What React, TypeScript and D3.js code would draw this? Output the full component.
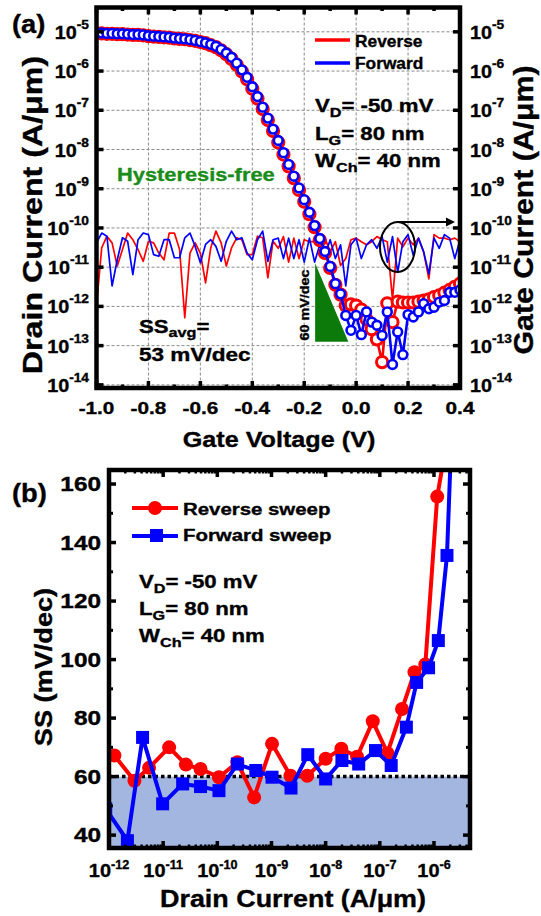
import React from 'react';
import * as d3 from 'd3';

// ---------- panel (a): transfer curves ----------
const gateV = [
  -1.0, -0.98, -0.96, -0.94, -0.92, -0.9, -0.88, -0.86, -0.84, -0.82,
  -0.8, -0.78, -0.76, -0.74, -0.72, -0.7, -0.68, -0.66, -0.64, -0.62,
  -0.6, -0.58, -0.56, -0.54, -0.52, -0.5, -0.48, -0.46, -0.44, -0.42,
  -0.4, -0.38, -0.36, -0.34, -0.32, -0.3, -0.28, -0.26, -0.24, -0.22,
  -0.2, -0.18, -0.16, -0.14, -0.12, -0.1, -0.08, -0.06, -0.04, -0.02,
  0.0, 0.02, 0.04, 0.06, 0.08, 0.1, 0.12, 0.14, 0.16, 0.18,
  0.2, 0.22, 0.24, 0.26, 0.28, 0.3, 0.32, 0.34, 0.36, 0.38,
  0.4,
];

// log10 of drain current (A/um)
const idReverseExp = [
  -5.04, -5.04, -5.05, -5.05, -5.06, -5.06, -5.07, -5.08, -5.08, -5.09,
  -5.11, -5.12, -5.13, -5.14, -5.15, -5.17, -5.18, -5.19, -5.21, -5.23,
  -5.26, -5.29, -5.34, -5.39, -5.47, -5.57, -5.69, -5.84, -6.01, -6.21,
  -6.45, -6.7, -6.97, -7.25, -7.53, -7.82, -8.13, -8.43, -8.73, -9.03,
  -9.33, -9.65, -9.98, -10.31, -10.64, -11.02, -11.45, -11.7, -11.98, -11.95,
  -11.98, -12.08, -12.33, -12.58, -12.84, -13.42, -11.92, -12.4, -11.88, -11.9,
  -11.9, -11.9, -11.88, -11.85, -11.82, -11.76, -11.72, -11.65, -11.58, -11.5,
  -11.42,
];
const idForwardExp = [
  -5.03, -5.03, -5.04, -5.04, -5.05, -5.05, -5.06, -5.07, -5.07, -5.08,
  -5.1, -5.11, -5.12, -5.13, -5.14, -5.16, -5.17, -5.18, -5.2, -5.22,
  -5.25, -5.28, -5.32, -5.37, -5.45, -5.54, -5.65, -5.8, -5.97, -6.16,
  -6.4, -6.65, -6.92, -7.2, -7.48, -7.77, -8.08, -8.38, -8.68, -8.98,
  -9.28, -9.6, -9.94, -10.27, -10.6, -10.98, -11.42, -11.68, -12.23, -12.61,
  -12.23, -12.72, -12.14, -12.4, -12.48, -12.74, -12.14, -13.48, -12.65, -13.23,
  -12.21, -12.27, -12.14, -11.93, -12.06, -12.02, -11.89, -11.85, -11.64, -11.64,
  -11.58,
];

// log10 of gate current (A/um)
const igReverseExp = [
  -11.99, -10.51, -10.21, -10.38, -10.97, -10.55, -10.13, -10.3, -10.55, -10.85,
  -10.34, -10.38, -10.64, -10.81, -10.13, -10.13, -10.55, -12.29, -10.64, -10.38,
  -10.64, -11.4, -10.51, -10.08, -10.38, -10.97, -10.51, -10.25, -10.3, -10.68,
  -10.68, -10.21, -10.25, -11.27, -10.34, -10.52, -10.22, -10.87, -10.26, -10.78,
  -10.3, -10.35, -10.35, -10.48, -10.26, -10.61, -10.35, -10.96, -10.78, -10.3,
  -10.26, -10.35, -10.43, -10.35, -10.22, -10.3, -10.35, -11.83, -10.26, -10.48,
  -10.26, -10.43, -10.26, -10.61, -11.3, -10.17, -10.26, -10.26, -10.3, -10.26,
  -10.35,
];
const igForwardExp = [
  -10.38, -10.13, -10.21, -11.48, -10.81, -10.25, -10.34, -11.19, -10.3, -10.13,
  -10.17, -10.68, -10.72, -10.3, -10.3, -10.76, -10.76, -10.25, -10.13, -10.47,
  -10.89, -10.42, -10.3, -10.47, -10.85, -10.34, -10.08, -10.3, -10.25, -10.64,
  -10.81, -10.3, -10.08, -10.85, -10.3, -10.26, -10.78, -10.26, -10.78, -10.3,
  -10.87, -10.26, -10.87, -10.43, -10.7, -10.3, -10.78, -10.43, -11.48, -10.43,
  -10.26, -10.78, -10.43, -10.3, -10.52, -10.22, -10.87, -10.22, -11.13, -10.35,
  -10.17, -10.7, -10.26, -10.61, -11.17, -10.26, -10.52, -10.17, -10.26, -10.78,
  -10.3,
];

const yTickExpA = [-5, -6, -7, -8, -9, -10, -11, -12, -13, -14];
const xTicksA = [-1.0, -0.8, -0.6, -0.4, -0.2, 0.0, 0.2, 0.4];

// ---------- panel (b): SS vs drain current ----------
const ssRevIdExp = [-11.9, -11.53, -11.26, -10.89, -10.58, -10.31, -9.97, -9.63, -9.32, -8.99, -8.65, -8.34, -8.0, -7.71, -7.42, -7.13, -6.86, -6.59, -6.36, -6.16, -5.94, -5.53];
const ssRevVal = [67.2, 58.6, 63.0, 70.0, 64.1, 62.6, 59.8, 64.9, 52.9, 71.2, 60.3, 60.3, 66.1, 69.5, 66.8, 78.9, 68.0, 83.1, 95.7, 98.3, 155.7, 200];
const ssFwdIdExp = [-12.06, -11.66, -11.38, -11.01, -10.64, -10.31, -9.97, -9.63, -9.29, -8.99, -8.64, -8.33, -8.0, -7.7, -7.39, -7.08, -6.79, -6.51, -6.32, -6.1, -5.92, -5.76, -5.63];
const ssFwdVal = [49, 38.1, 73.4, 50.7, 57.5, 56.6, 55.2, 64.3, 62.1, 59.8, 56.1, 67.5, 59.2, 65.5, 64.3, 68.9, 63.8, 76.9, 92.2, 97.2, 106.5, 135.6, 200];

const xTickExpB = [-12, -11, -10, -9, -8, -7, -6];
const yTicksB = [40, 60, 80, 100, 120, 140, 160];
const yMinorB = [50, 70, 90, 110, 130, 150];
const idealSS = 60;

const FONT = "'Liberation Sans', Arial, Helvetica, sans-serif";
const RED = '#ff0000';
const BLUE = '#0000ff';
const GRID = '#8a8a8a';

// bold text, widened a little to match the heavy font of the original
function Label({ x, y, size, anchor = 'start', sx = 1.15, rot = 0, fill = '#000', children }: any) {
  return (
    <text
      transform={`translate(${x},${y}) rotate(${rot}) scale(${sx},1)`}
      fontSize={size}
      fontWeight="bold"
      fontFamily={FONT}
      textAnchor={anchor}
      fill={fill}
      stroke={fill}
      strokeWidth={0.35}
    >
      {children}
    </text>
  );
}

export default function App() {
  // panel (a) scales
  const A = { left: 96.5, right: 460, top: 7.5, bottom: 388 };
  const xA = d3.scaleLinear().domain([-1, 0.4]).range([A.left, A.right]);
  const yA = d3.scaleLog().domain([10 ** -14.08, 10 ** -4.38]).range([A.bottom, A.top]);
  const lineA = d3.line<number>().x((_, i) => xA(gateV[i])).y(d => yA(10 ** d));

  // panel (b) scales
  const B = { left: 109, right: 470, top: 470, bottom: 848 };
  const xB = d3.scaleLog().domain([1e-12, 10 ** -5.335]).range([B.left, B.right]);
  const yB = d3.scaleLinear().domain([35.6, 164.8]).range([B.bottom, B.top]);
  const revPts = ssRevIdExp.map((e, i) => [xB(10 ** e), yB(ssRevVal[i])] as [number, number]);
  const fwdPts = ssFwdIdExp.map((e, i) => [xB(10 ** e), yB(ssFwdVal[i])] as [number, number]);
  const lineB = d3.line();

  const xMinorA = xA.ticks(14);
  const xMinorB = xB.ticks().filter(t => t >= 1e-12 && t <= 10 ** -5.335);

  const tri = [
    [xA(-0.158), yA(10 ** -10.9)],
    [xA(-0.158), yA(10 ** -12.9)],
    [xA(-0.03), yA(10 ** -12.9)],
  ];

  return (
    <svg width={541} height={916} style={{ position: 'absolute', left: 0, top: 0, background: '#fff' }}>
      <defs>
        <clipPath id="clipA">
          <rect x={A.left} y={A.top} width={A.right - A.left} height={A.bottom - A.top} />
        </clipPath>
        <clipPath id="clipB">
          <rect x={B.left} y={B.top} width={B.right - B.left} height={B.bottom - B.top} />
        </clipPath>
      </defs>

      {/* ================= panel (a) ================= */}
      <g>
        {yTickExpA.map(e => (
          <line key={'gy' + e} x1={A.left} x2={A.right} y1={yA(10 ** e)} y2={yA(10 ** e)}
            stroke={GRID} strokeWidth={1} strokeDasharray="3,2" />
        ))}
        {xTicksA.slice(1, -1).map(v => (
          <line key={'gx' + v} x1={xA(v)} x2={xA(v)} y1={A.top} y2={A.bottom}
            stroke={GRID} strokeWidth={1} strokeDasharray="3,2" />
        ))}

        <g clipPath="url(#clipA)">
          <path d={lineA(igReverseExp) || ''} fill="none" stroke={RED} strokeWidth={1.7} strokeLinejoin="round" />
          <path d={lineA(igForwardExp) || ''} fill="none" stroke={BLUE} strokeWidth={1.7} strokeLinejoin="round" />

          <polygon points={tri.map(p => p.join(',')).join(' ')} fill="#0b7a0b" />

          <path d={lineA(idReverseExp) || ''} fill="none" stroke={RED} strokeWidth={2.6} />
          {idReverseExp.map((e, i) => (
            <circle key={'rc' + i} cx={xA(gateV[i])} cy={yA(10 ** e)} r={5.6} fill="#fff" stroke={RED} strokeWidth={3} />
          ))}
          <path d={lineA(idForwardExp) || ''} fill="none" stroke={BLUE} strokeWidth={2.6} />
          {idForwardExp.map((e, i) => (
            <circle key={'bc' + i} cx={xA(gateV[i])} cy={yA(10 ** e)} r={4.4} fill="#fff" stroke={BLUE} strokeWidth={2.6} />
          ))}
        </g>

        {/* ticks */}
        {yTickExpA.map(e => (
          <g key={'ty' + e}>
            <line x1={A.left} x2={A.left + 7} y1={yA(10 ** e)} y2={yA(10 ** e)} stroke="#000" strokeWidth={3.5} />
            <line x1={A.right} x2={A.right - 7} y1={yA(10 ** e)} y2={yA(10 ** e)} stroke="#000" strokeWidth={3.5} />
          </g>
        ))}
        {xMinorA.map(v => {
          const major = xTicksA.some(t => Math.abs(t - v) < 1e-6);
          const len = major ? 7 : 3.5;
          return (
            <g key={'tx' + v}>
              <line x1={xA(v)} x2={xA(v)} y1={A.bottom} y2={A.bottom - len} stroke="#000" strokeWidth={3.5} />
              <line x1={xA(v)} x2={xA(v)} y1={A.top} y2={A.top + len} stroke="#000" strokeWidth={3.5} />
            </g>
          );
        })}
        <rect x={A.left} y={A.top} width={A.right - A.left} height={A.bottom - A.top} fill="none" stroke="#000" strokeWidth={4.5} />

        {/* tick labels */}
        {yTickExpA.map(e => (
          <g key={'ly' + e}>
            <Label x={89} y={yA(10 ** e) + 7} size={18} anchor="end" sx={1.1}>
              10<tspan dy={-10} fontSize={12.5}>{String(e)}</tspan>
            </Label>
            <Label x={470} y={yA(10 ** e) + 7} size={18} sx={1.1}>
              10<tspan dy={-10} fontSize={12.5}>{String(e)}</tspan>
            </Label>
          </g>
        ))}
        {xTicksA.map(v => (
          <Label key={'lx' + v} x={xA(v)} y={413.5} size={17} anchor="middle" sx={1.22}>
            {v.toFixed(1)}
          </Label>
        ))}

        <Label x={279} y={447} size={22.5} anchor="middle" sx={1.12}>Gate Voltage (V)</Label>
        <Label x={42} y={215} size={28} anchor="middle" sx={1.15} rot={-90}>Drain Current (A/μm)</Label>
        <Label x={533} y={210} size={27} anchor="middle" sx={1.12} rot={-90}>Gate Current (A/μm)</Label>
        <Label x={12} y={33} size={26} sx={1.05}>(a)</Label>

        {/* legend */}
        <line x1={315} x2={350} y1={40} y2={40} stroke={RED} strokeWidth={3.5} />
        <line x1={315} x2={350} y1={63} y2={63} stroke={BLUE} strokeWidth={3.5} />
        <Label x={355} y={46.5} size={16.5} sx={1.05}>Reverse</Label>
        <Label x={355} y={69} size={16.5} sx={1.05}>Forward</Label>

        {/* annotations */}
        <Label x={315} y={112} size={18.5} sx={1.2}>
          V<tspan dy={5} fontSize={13.5}>D</tspan><tspan dy={-5}>= -50 mV</tspan>
        </Label>
        <Label x={315} y={140} size={18.5} sx={1.2}>
          L<tspan dy={5} fontSize={13.5}>G</tspan><tspan dy={-5}>= 80 nm</tspan>
        </Label>
        <Label x={315} y={167} size={18.5} sx={1.2}>
          W<tspan dy={5} fontSize={13.5}>Ch</tspan><tspan dy={-5}>= 40 nm</tspan>
        </Label>
        <Label x={117} y={181} size={18.5} sx={1.18} fill="#1a8c1a">Hysteresis-free</Label>
        <Label x={139} y={333} size={18.5} sx={1.2}>
          SS<tspan dy={4} fontSize={13.5}>avg</tspan><tspan dy={-4}>=</tspan>
        </Label>
        <Label x={139} y={361} size={18.5} sx={1.22}>53 mV/dec</Label>
        <Label x={309} y={305} size={12.5} anchor="middle" sx={1.15} rot={-90}>60 mV/dec</Label>

        <ellipse cx={397.5} cy={247} rx={17.5} ry={25} fill="none" stroke="#000" strokeWidth={2} />
        <line x1={397} x2={448} y1={222} y2={222} stroke="#000" strokeWidth={2} />
        <polygon points="455,222 446,217.5 446,226.5" fill="#000" />
      </g>

      {/* ================= panel (b) ================= */}
      <g>
        <rect x={B.left} y={yB(idealSS)} width={B.right - B.left} height={B.bottom - yB(idealSS)} fill="#a2b6df" />
        <line x1={B.left} x2={B.right} y1={yB(idealSS)} y2={yB(idealSS)} stroke="#000" strokeWidth={3.5} strokeDasharray="3.5,3" />

        <g clipPath="url(#clipB)">
          <path d={lineB(revPts) || ''} fill="none" stroke={RED} strokeWidth={4} strokeLinejoin="round" />
          {revPts.map((p, i) => (
            <circle key={'sr' + i} cx={p[0]} cy={p[1]} r={7} fill={RED} />
          ))}
          <path d={lineB(fwdPts) || ''} fill="none" stroke={BLUE} strokeWidth={4} strokeLinejoin="round" />
          {fwdPts.map((p, i) => (
            <rect key={'sf' + i} x={p[0] - 6.5} y={p[1] - 6.5} width={13} height={13} fill={BLUE} />
          ))}
        </g>

        {/* ticks */}
        {yTicksB.map(v => (
          <g key={'tby' + v}>
            <line x1={B.left} x2={B.left + 7} y1={yB(v)} y2={yB(v)} stroke="#000" strokeWidth={3.5} />
            <line x1={B.right} x2={B.right - 7} y1={yB(v)} y2={yB(v)} stroke="#000" strokeWidth={3.5} />
          </g>
        ))}
        {yMinorB.map(v => (
          <g key={'tbm' + v}>
            <line x1={B.left} x2={B.left + 4} y1={yB(v)} y2={yB(v)} stroke="#000" strokeWidth={3} />
            <line x1={B.right} x2={B.right - 4} y1={yB(v)} y2={yB(v)} stroke="#000" strokeWidth={3} />
          </g>
        ))}
        {xMinorB.map(t => {
          const major = Math.abs(Math.log10(t) - Math.round(Math.log10(t))) < 1e-6;
          const len = major ? 7 : 3.5;
          return (
            <g key={'tbx' + t}>
              <line x1={xB(t)} x2={xB(t)} y1={B.bottom} y2={B.bottom - len} stroke="#000" strokeWidth={major ? 3.5 : 2.5} />
              <line x1={xB(t)} x2={xB(t)} y1={B.top} y2={B.top + len} stroke="#000" strokeWidth={major ? 3.5 : 2.5} />
            </g>
          );
        })}
        <rect x={B.left} y={B.top} width={B.right - B.left} height={B.bottom - B.top} fill="none" stroke="#000" strokeWidth={4.5} />

        {yTicksB.map(v => (
          <Label key={'lby' + v} x={101} y={yB(v) + 7} size={19.5} anchor="end" sx={1.25}>{v}</Label>
        ))}
        {xTickExpB.map(e => (
          <Label key={'lbx' + e} x={xB(10 ** e)} y={877} size={19} anchor="middle" sx={1.05}>
            10<tspan dy={-8} fontSize={12}>{String(e)}</tspan>
          </Label>
        ))}

        <Label x={293} y={907} size={23} anchor="middle" sx={1.17}>Drain Current (A/μm)</Label>
        <Label x={52} y={667} size={23} anchor="middle" sx={1.18} rot={-90}>SS (mV/dec)</Label>
        <Label x={12} y={502} size={26} sx={1.05}>(b)</Label>

        {/* legend */}
        <line x1={132} x2={178} y1={508} y2={508} stroke={RED} strokeWidth={4} />
        <circle cx={155} cy={508} r={7} fill={RED} />
        <line x1={132} x2={178} y1={536} y2={536} stroke={BLUE} strokeWidth={4} />
        <rect x={150} y={529} width={13} height={13} fill={BLUE} />
        <Label x={183} y={514.5} size={17} sx={1.2}>Reverse sweep</Label>
        <Label x={183} y={541} size={17} sx={1.2}>Forward sweep</Label>

        <Label x={139} y={588} size={18.5} sx={1.2}>
          V<tspan dy={5} fontSize={13.5}>D</tspan><tspan dy={-5}>= -50 mV</tspan>
        </Label>
        <Label x={139} y={615} size={18.5} sx={1.2}>
          L<tspan dy={5} fontSize={13.5}>G</tspan><tspan dy={-5}>= 80 nm</tspan>
        </Label>
        <Label x={139} y={642} size={18.5} sx={1.2}>
          W<tspan dy={5} fontSize={13.5}>Ch</tspan><tspan dy={-5}>= 40 nm</tspan>
        </Label>
      </g>
    </svg>
  );
}
